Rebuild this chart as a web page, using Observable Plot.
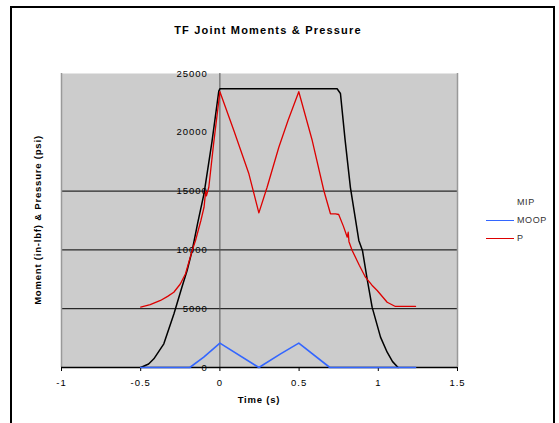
<!DOCTYPE html>
<html>
<head>
<meta charset="utf-8">
<script src="https://cdn.jsdelivr.net/npm/d3@7"></script>
<script src="https://cdn.jsdelivr.net/npm/@observablehq/plot@0.6"></script>
<style>
  html, body { margin: 0; padding: 0; background: #fff; }
  #wrap { position: relative; width: 559px; height: 423px; overflow: hidden; font-family: "Liberation Sans", Arial, sans-serif; }
  #border { position: absolute; left: 10px; top: 6px; width: 545px; height: 430px; border: 2px solid #000; box-sizing: border-box; }
  .ov { position: absolute; white-space: nowrap; color: #000; }
  #title { left: 268px; top: 24px; transform: translateX(-50%); font-size: 11px; font-weight: bold; letter-spacing: 1.2px; }
  #xlab { left: 259px; top: 394px; transform: translateX(-50%); font-size: 9.5px; font-weight: bold; letter-spacing: 0.8px; }
  #ylab { left: 37px; top: 220px; transform: translate(-50%, -50%) rotate(-90deg); font-size: 9.5px; font-weight: bold; letter-spacing: 0.8px; }
  .leg { position: absolute; left: 486px; height: 12px; font-size: 9px; color: #333; letter-spacing: 0.6px; }
  .leg span.sw { position: absolute; left: 0; top: 6px; width: 28px; height: 0; border-top: 1.5px solid; }
  .leg span.tx { position: absolute; left: 31px; top: 0; line-height: 12px; }
</style>
</head>
<body>
<div id="wrap">
  <div id="chart" style="position:absolute;left:0;top:0;"></div>
  <div id="border"></div>
  <div class="ov" id="title">TF Joint Moments &amp; Pressure</div>
  <div class="ov" id="xlab">Time (s)</div>
  <div class="ov" id="ylab">Moment (in-lbf) &amp; Pressure (psi)</div>
  <div id="legend"></div>
</div>
<script>
// MIP (black)
const mipT = [-0.5,-0.45,-0.417,-0.354,-0.29,-0.24,-0.207,-0.175,-0.14,-0.1,-0.05,-0.007,0,0.74,0.761,0.79,0.824,0.877,0.9,0.93,0.961,1.014,1.056,1.09,1.125];
const mipV = [0,300,740,2015,4566,6830,8250,9950,12300,14800,19200,23500,23700,23700,23300,19400,15300,10800,9950,7500,5130,2580,1300,500,0];
// P (red)
const pT = [-0.5,-0.44,-0.375,-0.33,-0.291,-0.25,-0.217,-0.175,-0.154,-0.12,-0.1,-0.09,-0.085,-0.07,-0.04,0,0.088,0.183,0.246,0.298,0.372,0.43,0.498,0.583,0.656,0.698,0.73,0.75,0.78,0.804,0.81,0.815,0.835,0.88,0.919,0.96,0.993,1.056,1.108,1.235];
const pV = [5130,5350,5700,6050,6400,7100,7970,9950,10800,12500,13630,15000,14600,15330,19000,23450,20150,16470,13150,15330,18730,21000,23450,19300,15050,13070,13070,13010,12000,11080,11500,10700,9950,8700,7680,7000,6550,5550,5190,5190];
// MOOP (blue)
const moopT = [-0.5,-0.19,-0.102,0,0.246,0.383,0.498,0.694,1.235];
const moopV = [0,0,880,2070,0,1160,2070,0,0];

const xTicks = [-1,-0.5,0,0.5,1,1.5];
const yTicks = [0,5000,10000,15000,20000,25000];
const gridY = [5000,10000,15000];
const seriesNames = ["MIP","MOOP","P"];
const seriesColors = ["none","#3366ff","#dd0000"];

const mip = mipT.map((t,i)=>({t, v: mipV[i]}));
const p = pT.map((t,i)=>({t, v: pV[i]}));
const moop = moopT.map((t,i)=>({t, v: moopV[i]}));

const chart = Plot.plot({
  width: 559, height: 423,
  marginLeft: 61, marginRight: 102, marginTop: 73, marginBottom: 56,
  style: { fontFamily: "'Liberation Sans', Arial, sans-serif", fontSize: "9.5px", letterSpacing: "1px", background: "transparent", color: "#000" },
  x: { domain: [-1, 1.5] },
  y: { domain: [0, 25000], axis: null },
  marks: [
    Plot.frame({ fill: "#cccccc", stroke: null }),
    Plot.ruleY(gridY, { stroke: "#000", strokeWidth: 1 }),
    Plot.ruleX([-1, 1.5], { stroke: "#999", strokeWidth: 1.5 }),
    Plot.ruleX([0], { stroke: "#555", strokeWidth: 1 }),
    Plot.ruleY([0], { stroke: "#000", strokeWidth: 1.5 }),
    Plot.axisX({ ticks: xTicks, tickSize: 4, tickPadding: 8, tickFormat: d => String(d), label: null }),
    Plot.text(yTicks, { x: 0, y: d => d, text: d => String(d), textAnchor: "end", dx: -12, fill: "#000" }),
    Plot.line(mip, { x: "t", y: "v", stroke: "#000", strokeWidth: 1.5 }),
    Plot.line(p, { x: "t", y: "v", stroke: "#dd0000", strokeWidth: 1.3 }),
    Plot.line(moop, { x: "t", y: "v", stroke: "#3366ff", strokeWidth: 1.6 })
  ]
});
document.getElementById("chart").appendChild(chart);

const legend = document.getElementById("legend");
const legY = [196, 214, 232];
seriesNames.forEach((n, i) => {
  const d = document.createElement("div");
  d.className = "leg";
  d.style.top = legY[i] + "px";
  const sw = document.createElement("span");
  sw.className = "sw";
  if (seriesColors[i] === "none") sw.style.borderTopColor = "transparent";
  else sw.style.borderTopColor = seriesColors[i];
  const tx = document.createElement("span");
  tx.className = "tx";
  tx.textContent = n;
  d.appendChild(sw); d.appendChild(tx);
  legend.appendChild(d);
});
</script>
</body>
</html>
